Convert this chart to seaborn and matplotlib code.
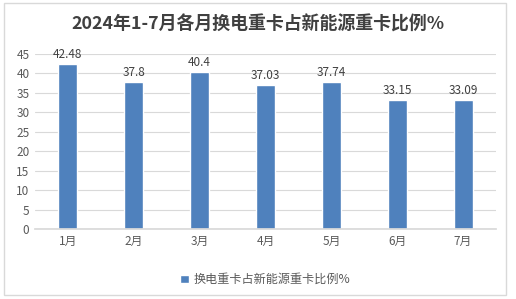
import matplotlib
matplotlib.use("Agg")
import matplotlib.pyplot as plt
import seaborn as sns
import pandas as pd
from matplotlib.patches import Rectangle

months = ["1月", "2月", "3月", "4月", "5月", "6月", "7月"]
values = [42.48, 37.8, 40.4, 37.03, 37.74, 33.15, 33.09]
labels = ["42.48", "37.8", "40.4", "37.03", "37.74", "33.15", "33.09"]
series_name = "换电重卡占新能源重卡比例%"
title = "2024年1-7月各月换电重卡占新能源重卡比例%"

sns.set_theme(style="white")
plt.rcParams['font.family'] = ['Noto Sans CJK SC', 'DejaVu Sans']

df = pd.DataFrame({"month": months, "value": values, "series": series_name})

fig = plt.figure(figsize=(5.16, 2.99), dpi=100)
ax = fig.add_axes([35/516, 1-229/299, 461/516, 175/299])

sns.barplot(data=df, x="month", y="value", hue="series", palette=["#4F81BD"],
            width=0.29, ax=ax, saturation=1, legend=True)

ax.set_ylim(0, 45)
ax.set_yticks(range(0, 46, 5))
ax.yaxis.grid(True, color="#D9D9D9", linewidth=0.8)
ax.set_axisbelow(True)
for s in ["top", "right", "left"]:
    ax.spines[s].set_visible(False)
ax.spines["bottom"].set_color("#D9D9D9")
ax.set_xlabel("")
ax.set_ylabel("")
ax.tick_params(axis="both", colors="#595959", labelsize=8.5, length=0, pad=4)
ax.set_xlim(-0.5, 6.5)

for i, (v, t) in enumerate(zip(values, labels)):
    ax.text(i, v + 0.8, t, ha="center", va="bottom", fontsize=8.5, color="#404040")

leg = ax.legend(loc="center", bbox_to_anchor=(0.5, -0.29), frameon=False,
                fontsize=8.7, handlelength=0.7, handleheight=0.7, handletextpad=0.4)
for txt in leg.get_texts():
    txt.set_color("#595959")

fig.text(0.5, 1-24/299, title, ha="center", va="center", fontsize=12.9,
         fontweight="bold", color="#404040")

fig.patches.append(Rectangle((4/516, 1-295/299), 502/516, 292/299,
                             transform=fig.transFigure, fill=False,
                             edgecolor="#D9D9D9", linewidth=1))

fig.savefig("out.png", dpi=100, facecolor="white")
